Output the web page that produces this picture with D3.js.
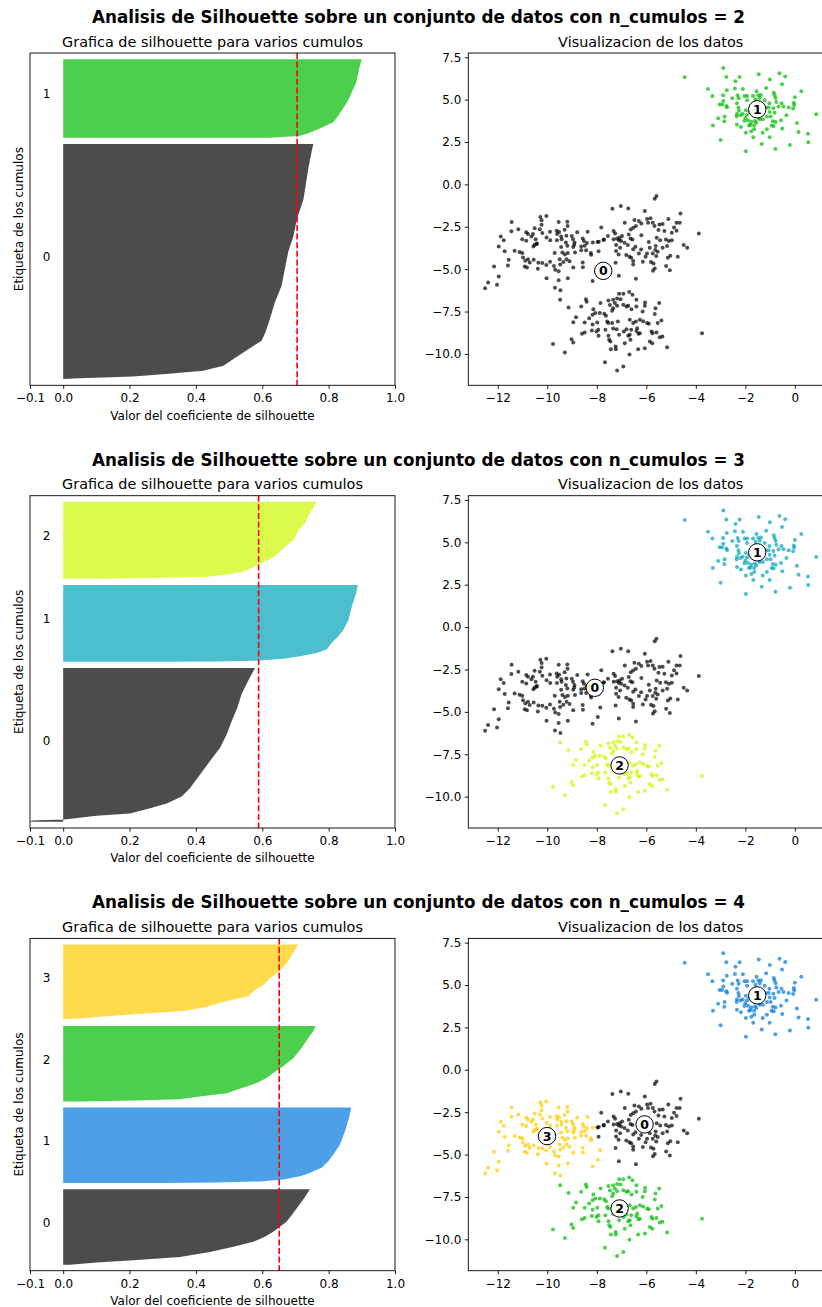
<!DOCTYPE html>
<html>
<head>
<meta charset="utf-8">
<script src="https://cdn.jsdelivr.net/npm/d3@7"></script>
<style>
body { margin: 0; background: white; }
svg { display: block; font-family: "DejaVu Sans", sans-serif; }
</style>
</head>
<body>
<div id="chart"></div>
<script>
// ---- data ----
// sample cloud, split by blob (upper right, left, middle, lower)
const blobNE = [[-4.45,6.32],[-2.77,6.34],[-2.23,6.34],[-1.46,6.50],[-0.62,6.55],[-0.39,6.36],[-2.40,6.08],[-1.01,6.18],[-0.52,5.91],[-3.51,5.63],[-2.75,5.55],[-2.42,5.65],[-2.10,5.63],[-1.16,5.69],[-1.55,5.49],[-0.85,5.41],[0.26,5.49],[-3.33,5.22],[-2.90,5.26],[-2.53,5.08],[-2.31,5.26],[-2.27,5.08],[-2.03,5.22],[-1.93,5.22],[-1.69,5.22],[-1.48,5.26],[-1.37,5.28],[-1.42,5.10],[-0.82,5.26],[-0.78,5.10],[0.00,5.14],[-2.89,4.92],[-1.93,4.96],[-1.59,5.02],[-1.22,4.96],[-1.03,4.78],[-1.06,4.53],[-0.75,4.86],[-0.54,4.78],[-0.46,4.59],[-0.66,4.59],[-0.25,4.53],[-0.07,4.47],[-0.04,4.82],[-0.03,4.69],[-3.04,4.71],[-2.94,4.71],[-2.77,4.63],[-2.74,4.55],[-2.34,4.78],[-2.28,4.53],[-2.26,4.35],[-2.11,4.15],[-2.34,4.15],[-2.19,4.08],[-2.35,4.00],[-1.98,4.37],[-1.93,4.10],[-1.83,4.27],[-1.29,4.43],[-1.18,4.53],[-0.87,4.49],[-1.02,4.27],[-1.13,4.00],[-0.98,4.00],[-0.82,4.23],[-0.34,4.08],[0.86,4.13],[-3.10,3.90],[-2.84,4.00],[-2.04,3.76],[-1.89,3.78],[-1.80,3.52],[-1.76,3.68],[-1.61,3.74],[-0.56,3.78],[-0.89,3.72],[-0.78,3.68],[-0.86,3.45],[-2.85,3.72],[-2.34,3.54],[-3.31,3.48],[-2.18,3.39],[-1.85,3.48],[-1.65,3.48],[-1.64,3.25],[-1.56,3.64],[-2.00,3.92],[-1.44,3.92],[-1.13,3.25],[-0.94,3.48],[-1.30,3.05],[-0.51,3.29],[0.08,3.62],[0.15,3.09],[0.53,2.99],[0.54,2.48],[-1.98,3.05],[-1.76,3.13],[-1.68,2.78],[-1.02,2.78],[-1.34,2.38],[-3.00,2.62],[-0.20,2.32],[-0.79,2.09],[-1.98,1.95],[-1.42,3.84],[-1.49,4.04],[-1.29,3.84],[-2.89,6.87]];
const blobW = [[-10.28,-1.93],[-10.04,-1.87],[-11.44,-2.22],[-10.23,-2.12],[-9.54,-2.22],[-9.19,-2.20],[-10.23,-2.38],[-9.18,-2.46],[-11.45,-2.77],[-11.17,-2.64],[-10.51,-2.58],[-10.30,-2.64],[-9.89,-2.79],[-9.62,-2.73],[-9.52,-2.81],[-9.30,-2.67],[-11.88,-3.07],[-11.76,-3.30],[-10.85,-2.83],[-10.78,-2.93],[-10.58,-2.93],[-10.64,-3.07],[-10.20,-2.87],[-10.03,-3.13],[-9.60,-2.93],[-9.44,-3.07],[-9.23,-3.03],[-8.79,-2.83],[-9.01,-3.05],[-8.37,-2.79],[-11.01,-3.23],[-10.85,-3.32],[-10.47,-3.23],[-10.42,-3.48],[-9.88,-3.30],[-9.61,-3.30],[-9.42,-3.23],[-9.25,-3.42],[-8.96,-3.23],[-8.90,-3.42],[-8.57,-3.19],[-8.52,-3.34],[-8.40,-3.46],[-8.16,-3.42],[-11.96,-3.66],[-11.72,-3.95],[-11.32,-3.91],[-11.12,-3.99],[-11.01,-4.05],[-10.56,-3.66],[-10.51,-3.56],[-10.43,-3.52],[-9.44,-3.70],[-9.19,-3.62],[-8.95,-3.70],[-8.91,-3.56],[-8.63,-3.66],[-8.49,-3.62],[-10.98,-4.31],[-10.89,-4.50],[-10.78,-4.41],[-10.71,-4.60],[-10.55,-4.45],[-10.36,-4.62],[-10.20,-4.64],[-9.39,-4.01],[-9.29,-4.13],[-9.17,-4.05],[-8.88,-4.01],[-8.63,-3.88],[-8.43,-3.89],[-8.23,-4.15],[-9.70,-4.05],[-9.50,-4.41],[-9.35,-4.58],[-9.22,-4.41],[-9.10,-4.54],[-11.56,-4.45],[-12.15,-4.84],[-11.59,-4.78],[-10.91,-4.84],[-10.82,-4.90],[-10.38,-4.98],[-10.04,-4.76],[-9.89,-4.56],[-9.73,-4.82],[-9.68,-5.04],[-9.54,-5.12],[-9.48,-4.72],[-8.57,-4.60],[-8.56,-4.88],[-8.95,-4.90],[-7.86,-4.74],[-10.03,-5.53],[-9.54,-5.65],[-9.17,-5.53],[-8.17,-5.70],[-7.96,-5.31],[-12.39,-5.78],[-11.96,-5.43],[-12.51,-6.12],[-12.03,-5.92],[-9.69,-6.10],[-9.47,-6.24],[-8.24,-4.04]];
const blobC = [[-5.59,-0.69],[-5.66,-0.84],[-7.37,-1.43],[-7.03,-1.28],[-6.73,-1.42],[-6.06,-1.57],[-4.62,-1.71],[-6.87,-2.26],[-6.48,-2.10],[-6.30,-2.16],[-6.20,-2.30],[-5.97,-2.04],[-5.83,-2.00],[-5.93,-2.26],[-5.74,-2.26],[-6.42,-2.46],[-6.53,-2.56],[-5.67,-2.46],[-5.47,-2.36],[-5.34,-2.34],[-5.11,-2.04],[-4.78,-2.26],[-4.65,-2.26],[-4.88,-2.54],[-4.78,-2.73],[-7.82,-2.54],[-7.32,-2.75],[-7.26,-2.89],[-7.18,-3.19],[-7.08,-3.15],[-6.98,-3.05],[-6.63,-2.66],[-6.71,-2.95],[-5.51,-2.69],[-5.27,-2.75],[-4.97,-2.85],[-3.88,-2.89],[-7.55,-3.05],[-7.71,-3.25],[-7.92,-3.38],[-7.32,-3.23],[-7.11,-3.29],[-7.02,-3.34],[-6.64,-3.19],[-6.56,-3.25],[-5.58,-3.15],[-5.44,-3.29],[-5.21,-3.25],[-5.09,-3.34],[-4.97,-3.29],[-5.16,-3.64],[-4.49,-3.58],[-4.35,-3.74],[-7.22,-3.58],[-6.88,-3.44],[-6.75,-3.58],[-7.06,-3.74],[-6.44,-3.68],[-6.53,-3.82],[-6.21,-3.84],[-5.62,-3.64],[-5.64,-3.87],[-5.34,-3.74],[-5.86,-3.74],[-7.22,-3.93],[-7.12,-4.13],[-6.81,-4.17],[-6.61,-4.33],[-6.53,-4.52],[-6.30,-4.07],[-6.03,-4.27],[-5.97,-4.07],[-5.74,-4.07],[-5.60,-4.23],[-5.54,-3.97],[-5.13,-4.33],[-5.03,-4.21],[-4.73,-4.27],[-5.81,-4.58],[-5.71,-4.66],[-5.66,-4.96],[-5.73,-5.10],[-5.20,-4.82],[-5.05,-5.06],[-6.14,-4.56],[-7.24,-4.62],[-6.53,-4.72],[-7.11,-5.39],[-6.68,-4.27],[-6.42,-5.57],[-7.97,-3.40],[-7.93,-3.95],[-7.73,-3.28],[-6.20,-3.00],[-5.90,-3.40]];
const blobS = [[-9.29,-9.92],[-9.02,-9.13],[-8.95,-9.33],[-9.14,-7.26],[-8.84,-7.83],[-8.95,-8.13],[-8.63,-7.20],[-8.44,-6.77],[-8.41,-6.92],[-7.85,-7.00],[-7.53,-6.85],[-7.34,-6.81],[-7.27,-7.00],[-7.18,-6.73],[-7.04,-6.77],[-7.10,-6.45],[-6.93,-6.45],[-6.69,-6.35],[-6.56,-6.51],[-6.40,-6.81],[-6.05,-6.96],[-6.06,-7.16],[-5.48,-7.00],[-5.63,-7.30],[-6.40,-7.20],[-6.73,-7.16],[-6.60,-7.36],[-6.93,-7.10],[-6.80,-7.20],[-7.18,-7.16],[-7.34,-7.30],[-7.47,-7.12],[-8.14,-7.36],[-8.06,-7.59],[-8.17,-7.69],[-7.88,-7.59],[-7.70,-7.63],[-7.63,-7.75],[-7.38,-7.46],[-8.31,-7.89],[-8.49,-8.14],[-8.17,-8.26],[-7.98,-8.14],[-7.58,-8.09],[-7.54,-8.18],[-7.38,-8.18],[-7.15,-8.09],[-6.67,-7.99],[-6.53,-8.18],[-6.42,-8.09],[-6.26,-7.99],[-6.13,-8.07],[-6.15,-7.50],[-5.97,-8.18],[-5.66,-7.65],[-5.39,-8.03],[-5.54,-8.18],[-5.90,-8.22],[-7.94,-8.58],[-8.01,-8.68],[-8.20,-8.62],[-8.49,-8.74],[-8.60,-8.81],[-7.65,-8.58],[-7.34,-8.50],[-7.20,-8.54],[-6.91,-8.68],[-6.80,-8.54],[-6.61,-8.58],[-6.37,-8.48],[-6.26,-8.78],[-6.40,-8.64],[-6.32,-8.81],[-6.67,-8.87],[-6.73,-8.93],[-7.10,-8.87],[-7.53,-8.93],[-7.50,-9.17],[-7.45,-9.27],[-7.93,-8.93],[-5.79,-8.68],[-5.75,-8.78],[-5.59,-8.74],[-5.46,-9.01],[-5.35,-8.97],[-5.86,-9.27],[-5.76,-9.37],[-6.87,-9.37],[-6.64,-9.17],[-6.06,-9.66],[-6.33,-9.72],[-7.24,-9.56],[-7.23,-9.72],[-7.43,-9.72],[-6.68,-10.03],[-5.16,-9.60],[-3.75,-8.78],[-7.67,-10.49],[-6.93,-10.74],[-7.18,-10.98],[-9.48,-6.81],[-9.77,-9.42]];

// cluster centres per run
const centers2 = [[-7.74,-5.10],[-1.52,4.43]];
const centers3 = [[-8.08,-3.58],[-1.52,4.41],[-7.08,-8.16]];
const centers4 = [[-6.07,-3.22],[-1.52,4.39],[-7.08,-8.18],[-10.01,-3.91]];

// cluster sizes and mean silhouette per run
const sizes2 = [375, 125];
const sizes3 = [250, 125, 125];
const sizes4 = [125, 125, 125, 125];
const avgScores = [0.705, 0.589, 0.651];

// sorted silhouette profiles: [share of cluster from the top, value]
const sil2_0 = [[0,0.754],[0.024,0.75],[0.095,0.74],[0.236,0.724],[0.321,0.704],[0.392,0.694],[0.461,0.678],[0.533,0.668],[0.604,0.658],[0.673,0.638],[0.745,0.623],[0.80,0.610],[0.837,0.598],[0.859,0.573],[0.887,0.543],[0.915,0.513],[0.944,0.483],[0.965,0.422],[0.979,0.31],[0.989,0.21],[0.997,0.05],[1,0]];
const sil2_1 = [[0,0.90],[0.1,0.893],[0.2,0.888],[0.3,0.883],[0.4,0.872],[0.5,0.862],[0.6,0.848],[0.7,0.832],[0.8,0.815],[0.85,0.79],[0.9,0.765],[0.95,0.735],[0.98,0.71],[1,0.62]];
const sil3_0 = [[0,0.578],[0.081,0.558],[0.168,0.538],[0.256,0.525],[0.344,0.508],[0.431,0.493],[0.519,0.473],[0.606,0.442],[0.694,0.412],[0.781,0.382],[0.836,0.357],[0.88,0.312],[0.912,0.262],[0.945,0.201],[0.961,0.10],[0.978,0.03],[0.985,0.003],[0.988,-0.05],[0.992,-0.095],[1,-0.1]];
const sil3_1 = [[0,0.888],[0.108,0.883],[0.28,0.87],[0.453,0.86],[0.582,0.845],[0.668,0.829],[0.754,0.809],[0.841,0.794],[0.884,0.764],[0.927,0.714],[0.961,0.663],[0.983,0.593],[0.996,0.46],[1,0.3]];
const sil3_2 = [[0,0.764],[0.061,0.757],[0.148,0.743],[0.278,0.729],[0.365,0.709],[0.496,0.694],[0.583,0.668],[0.648,0.653],[0.735,0.628],[0.778,0.603],[0.822,0.588],[0.865,0.563],[0.909,0.543],[0.943,0.493],[0.974,0.432],[0.991,0.26],[1,0.1]];
const sil4_0 = [[0,0.744],[0.12,0.726],[0.253,0.704],[0.342,0.689],[0.431,0.673],[0.498,0.653],[0.564,0.633],[0.631,0.608],[0.698,0.573],[0.764,0.513],[0.831,0.442],[0.898,0.352],[0.942,0.211],[0.973,0.101],[1,0.02]];
const sil4_1 = [[0,0.868],[0.14,0.861],[0.316,0.849],[0.491,0.834],[0.623,0.814],[0.711,0.799],[0.798,0.779],[0.864,0.744],[0.908,0.714],[0.952,0.663],[0.978,0.593],[0.991,0.462],[1,0.3]];
const sil4_2 = [[0,0.761],[0.067,0.754],[0.156,0.739],[0.289,0.719],[0.422,0.694],[0.533,0.663],[0.622,0.633],[0.689,0.613],[0.756,0.583],[0.8,0.553],[0.844,0.523],[0.889,0.493],[0.933,0.412],[0.969,0.352],[0.987,0.21],[1,0.05]];
const sil4_3 = [[0,0.709],[0.107,0.694],[0.236,0.676],[0.365,0.648],[0.45,0.623],[0.536,0.603],[0.601,0.578],[0.687,0.558],[0.73,0.513],[0.773,0.473],[0.828,0.432],[0.88,0.362],[0.923,0.212],[0.957,0.111],[0.983,0.04],[0.991,0],[1,-0.01]];

const silTicks = [-0.1, 0, 0.2, 0.4, 0.6, 0.8, 1.0];
const scatterXTicks = [-12, -10, -8, -6, -4, -2, 0];
const scatterYTicks = [7.5, 5.0, 2.5, 0.0, -2.5, -5.0, -7.5, -10.0];

// nipy_spectral colours for i / n_clusters
const colors2 = ["#000000", "#00bb00"];
const colors3 = ["#000000", "#00a4bb", "#ccf900"];
const colors4 = ["#000000", "#0077dd", "#00bb00", "#ffcc00"];

const runs = [
  {k: 2, sizes: sizes2, centers: centers2, colors: colors2, profiles: [sil2_0, sil2_1]},
  {k: 3, sizes: sizes3, centers: centers3, colors: colors3, profiles: [sil3_0, sil3_1, sil3_2]},
  {k: 4, sizes: sizes4, centers: centers4, colors: colors4, profiles: [sil4_0, sil4_1, sil4_2, sil4_3]}
];
const samples = blobNE.concat(blobW, blobC, blobS);

// ---- drawing ----
let w = 822;
let h = 1307;
const rowStep = 442.7;
const axTop = 53, axBottom = 385.3;

let svg = d3.select("#chart")
  .append("svg")
  .attr("width", w)
  .attr("height", h);

const silX = d3.scaleLinear().domain([-0.1, 1.0]).range([30, 395]);
const scX = d3.scaleLinear().domain([-13.19, 1.54]).range([468.3, 833]);
const scY = d3.scaleLinear().domain([-11.85, 7.75]).range([axBottom, axTop]);
const fmt1 = d3.format(".1f");

function styleAxis(g) {
  g.attr("font-family", "DejaVu Sans").attr("font-size", 12);
  g.selectAll(".domain").remove();
  g.selectAll(".tick line").attr("stroke", "#000").attr("stroke-width", 0.9);
  g.selectAll(".tick text").attr("fill", "#000");
}

runs.forEach((run, r) => {
  const row = svg.append("g").attr("transform", `translate(0, ${r * rowStep})`);
  const total = d3.sum(run.sizes) + (run.k + 1) * 10;
  const silY = d3.scaleLinear().domain([0, total]).range([axBottom, axTop]);

  row.append("text")
    .attr("x", 418.5).attr("y", 23)
    .attr("text-anchor", "middle")
    .attr("font-size", 16.8).attr("font-weight", "bold")
    .text("Analisis de Silhouette sobre un conjunto de datos con n_cumulos = " + run.k);

  // ---- left: silhouette plot ----
  const left = row.append("g");
  let yLower = 10;
  const area = d3.area()
    .y(d => silY(d.y))
    .x0(silX(0))
    .x1(d => silX(d.v));

  run.sizes.forEach((size, i) => {
    const yUpper = yLower + size;
    const pts = run.profiles[i].map(p => ({y: yUpper - p[0] * size, v: p[1]}));
    left.append("path")
      .attr("d", area(pts))
      .attr("fill", run.colors[i])
      .attr("fill-opacity", 0.7);
    // label baseline sits at the middle of the cluster band
    left.append("text")
      .attr("x", silX(-0.05))
      .attr("y", silY(yLower + size / 2))
      .attr("text-anchor", "middle")
      .attr("font-size", 12)
      .text(i);
    yLower = yUpper + 10;
  });

  left.append("line")
    .attr("x1", silX(avgScores[r])).attr("x2", silX(avgScores[r]))
    .attr("y1", axTop).attr("y2", axBottom)
    .attr("stroke", "red").attr("stroke-width", 1.6)
    .attr("stroke-dasharray", "6,2.6");

  left.append("rect")
    .attr("x", silX(-0.1)).attr("y", axTop)
    .attr("width", silX(1) - silX(-0.1)).attr("height", axBottom - axTop)
    .attr("fill", "none").attr("stroke", "#000").attr("stroke-width", 0.9);

  left.append("g")
    .attr("transform", `translate(0, ${axBottom})`)
    .call(d3.axisBottom(silX).tickValues(silTicks).tickFormat(fmt1).tickSize(3.5).tickPadding(5))
    .call(styleAxis);

  left.append("text")
    .attr("x", 212.5).attr("y", 46.5)
    .attr("text-anchor", "middle").attr("font-size", 14.4)
    .text("Grafica de silhouette para varios cumulos");
  left.append("text")
    .attr("x", 212.5).attr("y", 419.5)
    .attr("text-anchor", "middle").attr("font-size", 12)
    .text("Valor del coeficiente de silhouette");
  left.append("text")
    .attr("transform", `translate(22.5, ${(axTop + axBottom) / 2}) rotate(-90)`)
    .attr("text-anchor", "middle").attr("font-size", 12)
    .text("Etiqueta de los cumulos");

  // ---- right: scatter of the samples coloured by cluster ----
  const right = row.append("g");
  const label = p => d3.minIndex(run.centers, c => (c[0] - p[0]) ** 2 + (c[1] - p[1]) ** 2);

  right.selectAll("circle.pt")
    .data(samples)
    .join("circle")
    .attr("class", "pt")
    .attr("cx", d => scX(d[0]))
    .attr("cy", d => scY(d[1]))
    .attr("r", 2)
    .attr("fill", d => run.colors[label(d)])
    .attr("fill-opacity", 0.7);

  const ctr = right.selectAll("g.ctr")
    .data(run.centers)
    .join("g")
    .attr("class", "ctr")
    .attr("transform", d => `translate(${scX(d[0])}, ${scY(d[1])})`);
  ctr.append("circle")
    .attr("r", 8.7)
    .attr("fill", "white")
    .attr("stroke", "#000").attr("stroke-width", 1);
  ctr.append("text")
    .attr("text-anchor", "middle")
    .attr("dominant-baseline", "central")
    .attr("font-size", 12.5).attr("font-weight", "bold")
    .text((d, i) => i);

  right.append("rect")
    .attr("x", scX.range()[0]).attr("y", axTop)
    .attr("width", scX.range()[1] - scX.range()[0]).attr("height", axBottom - axTop)
    .attr("fill", "none").attr("stroke", "#000").attr("stroke-width", 0.9);

  right.append("g")
    .attr("transform", `translate(0, ${axBottom})`)
    .call(d3.axisBottom(scX).tickValues(scatterXTicks).tickSize(3.5).tickPadding(5))
    .call(styleAxis);
  right.append("g")
    .attr("transform", `translate(${scX.range()[0]}, 0)`)
    .call(d3.axisLeft(scY).tickValues(scatterYTicks).tickFormat(fmt1).tickSize(3.5).tickPadding(3.5))
    .call(styleAxis);

  right.append("text")
    .attr("x", (scX.range()[0] + scX.range()[1]) / 2).attr("y", 46.5)
    .attr("text-anchor", "middle").attr("font-size", 14.4)
    .text("Visualizacion de los datos");
});
</script>
</body>
</html>
